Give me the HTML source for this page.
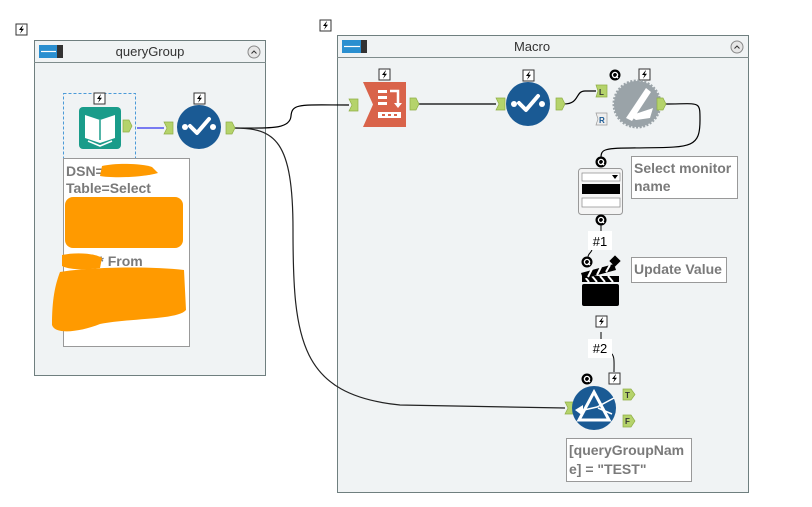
<!DOCTYPE html>
<html><head><meta charset="utf-8"><style>
html,body{margin:0;padding:0;background:#fff;}
svg{display:block;font-family:"Liberation Sans",sans-serif;}
.nt{font-weight:bold;fill:#7a7a7a;font-size:14px;}
</style></head><body>
<svg width="812" height="507" viewBox="0 0 812 507" xmlns="http://www.w3.org/2000/svg">
<defs>
<g id="bolt"><rect x="0" y="0" width="11" height="11" fill="#fff" stroke="#333" stroke-width="1"/><path d="M6.5 1.5 L3 6 L5.5 6 L4 9.8 L8 4.8 L5.5 4.8 L7 1.5Z" fill="#000"/></g>
<g id="q"><circle cx="0" cy="0" r="5.5" fill="#000"/><circle cx="0" cy="0" r="2.6" fill="none" stroke="#fff" stroke-width="1.3"/><path d="M1 1 L3 3" stroke="#fff" stroke-width="1.3"/></g>
<g id="outA"><path d="M0 0 H6 L9 6 L6 12 H0Z" fill="#b5d36b" stroke="#8fae46" stroke-width="0.7"/></g>
<g id="inA"><path d="M0 0 H9 V12 H0 L3 6Z" fill="#b5d36b" stroke="#8fae46" stroke-width="0.7"/></g>
</defs>

<!-- top-level bolts -->
<use href="#bolt" x="16" y="24"/>
<use href="#bolt" x="320" y="20"/>

<!-- queryGroup container -->
<rect x="34.5" y="40.5" width="231" height="335" fill="#f0f3f4" stroke="#6f7f7f" stroke-width="1"/>
<line x1="34" y1="62.5" x2="266" y2="62.5" stroke="#7f8c8c" stroke-width="1"/>
<rect x="39" y="45" width="24" height="13" fill="#2a8fd0"/><rect x="57" y="45" width="6" height="13" fill="#333"/><line x1="41" y1="51.5" x2="56" y2="51.5" stroke="#fff" stroke-width="1.2"/>
<text x="150" y="56" font-size="13" fill="#333" text-anchor="middle">queryGroup</text>
<circle cx="254" cy="52" r="6" fill="#e6e6e6" stroke="#888"/><path d="M251.5 53.5 L254 51 L256.5 53.5" fill="none" stroke="#333" stroke-width="1"/>

<!-- Macro container -->
<rect x="337.5" y="35.5" width="411" height="457" fill="#f0f3f4" stroke="#6f7f7f" stroke-width="1"/>
<line x1="337" y1="57.5" x2="749" y2="57.5" stroke="#7f8c8c" stroke-width="1"/>
<rect x="342" y="40" width="24" height="13" fill="#2a8fd0"/><rect x="361" y="40" width="6" height="13" fill="#333"/><line x1="344" y1="46.5" x2="360" y2="46.5" stroke="#fff" stroke-width="1.2"/>
<text x="532" y="51" font-size="13" fill="#333" text-anchor="middle">Macro</text>
<circle cx="737" cy="47" r="6" fill="#e6e6e6" stroke="#888"/><path d="M734.5 48.5 L737 46 L739.5 48.5" fill="none" stroke="#333" stroke-width="1"/>

<!-- connectors (behind) -->
<path d="M234 128 C268 128 290 130 291 116 C292 103 300 105 349 105" fill="none" stroke="#000" stroke-width="1.2"/>
<path d="M234 128 C275 128 293 140 293 230 C293 340 300 395 400 405 L565 408" fill="none" stroke="#222" stroke-width="1.2"/>
<line x1="418" y1="104" x2="496" y2="104" stroke="#000" stroke-width="1.2"/>
<path d="M564 104 C580 104 575 91 585 91 L596 91" fill="none" stroke="#000" stroke-width="1.2"/>
<path d="M665 104 C700 104 700 100 700 120 C700 150 690 147 630 148 C603 148 601 150 601 158" fill="none" stroke="#000" stroke-width="1.2"/>
<path d="M601 225 L601 232" stroke="#000" stroke-width="1"/>
<path d="M592 250 C590 254 588 254 588 257" fill="none" stroke="#000" stroke-width="1"/>
<path d="M601 332 L601 340" stroke="#000" stroke-width="1"/>
<path d="M610 352 C615 356 614 360 614 372" fill="none" stroke="#000" stroke-width="1"/>

<!-- queryGroup nodes -->
<rect x="63.5" y="93.5" width="72" height="66" fill="none" stroke="#4a9ad8" stroke-width="1" stroke-dasharray="3,2"/>
<use href="#bolt" x="94" y="93"/>
<rect x="79" y="107" width="42" height="42" rx="4" fill="#1a9c8a"/>
<path d="M85 115 L100 120 L115 115 L115 138 L100 143 L85 138Z" fill="#fff"/>
<path d="M100 120 L100 140" stroke="#1a9c8a" stroke-width="1.5"/>
<path d="M88 141 L100 146 L112 141" fill="none" stroke="#fff" stroke-width="1.5"/>
<use href="#outA" x="123" y="120"/>
<line x1="137" y1="128" x2="164" y2="128" stroke="#0000ee" stroke-width="1"/>
<use href="#inA" x="164" y="122"/>
<use href="#bolt" x="194" y="93"/>
<circle cx="199" cy="127" r="22" fill="#1a5a94"/>
<circle cx="185" cy="127" r="3" fill="#fff"/><circle cx="213" cy="127" r="3" fill="#fff"/>
<path d="M190 126 L197 133 L209 119" fill="none" stroke="#fff" stroke-width="4" stroke-linecap="round" stroke-linejoin="round"/>
<use href="#outA" x="226" y="122"/>

<!-- note box left -->
<rect x="63.5" y="158.5" width="126" height="188" fill="#fff" stroke="#999"/>
<text x="66" y="176" class="nt">DSN=</text>
<text x="66" y="193" class="nt">Table=Select</text>
<text x="66" y="266" class="nt">SQL * From</text>
<path d="M102 166 C115 163 140 163 152 167 L158 173 C140 178 110 178 100 176Z" fill="#ff9a00"/>
<rect x="65" y="197" width="118" height="51" rx="8" fill="#ff9a00"/>
<path d="M62 255 C75 252 95 253 102 258 L100 268 C85 270 70 270 62 266Z" fill="#ff9a00"/>
<path d="M60 272 C90 267 150 266 184 270 L186 310 C178 320 130 318 100 324 C80 332 55 335 52 325 C52 300 55 285 60 272Z" fill="#ff9a00"/>

<!-- Macro nodes -->
<use href="#inA" x="349" y="99"/>
<use href="#bolt" x="379" y="69"/>
<path d="M363 82 H406 V127 H363 L373 104.5Z" fill="#d9634a"/>
<rect x="378" y="90" width="9" height="3" fill="#fff"/><rect x="378" y="96" width="9" height="3" fill="#fff"/><rect x="378" y="102" width="9" height="3" fill="#fff"/>
<path d="M390 91 H398 V104" fill="none" stroke="#fff" stroke-width="2.5"/><path d="M394 103 L398 108 L402 103Z" fill="#fff"/>
<rect x="378" y="112" width="23" height="6" fill="#fff"/>
<rect x="382" y="114" width="3" height="2" fill="#d9634a"/><rect x="388" y="114" width="3" height="2" fill="#d9634a"/><rect x="394" y="114" width="3" height="2" fill="#d9634a"/>
<use href="#outA" x="410" y="98"/>
<use href="#inA" x="496" y="98"/>
<use href="#bolt" x="523" y="70"/>
<circle cx="528" cy="104" r="22" fill="#1a5a94"/>
<circle cx="514" cy="104" r="3" fill="#fff"/><circle cx="542" cy="104" r="3" fill="#fff"/>
<path d="M519 103 L526 110 L538 96" fill="none" stroke="#fff" stroke-width="4" stroke-linecap="round" stroke-linejoin="round"/>
<use href="#outA" x="556" y="98"/>

<path d="M596 85 H607 V97 H596 L598 91Z" fill="#b5d36b" stroke="#8fae46" stroke-width="0.7"/><text x="599" y="95" font-size="8" font-weight="bold" fill="#333">L</text>
<path d="M596 113 H607 V125 H596 L598 119Z" fill="#eee" stroke="#999" stroke-width="0.7"/><text x="599" y="123" font-size="8" font-weight="bold" fill="#1a5a94">R</text>
<use href="#q" x="615" y="75"/>
<use href="#bolt" x="639" y="69"/>
<circle cx="637" cy="104" r="23" fill="#9aa3a8" stroke="#9aa3a8" stroke-width="3" stroke-dasharray="2,1.5"/>
<path d="M626 118 L646 88 L651 92 L632 121Z" fill="#fff"/>
<path d="M630 116 C640 112 648 110 653 108 L650 118 L636 120Z" fill="#fff"/>
<use href="#outA" x="657" y="98"/>

<use href="#q" x="601" y="162"/>
<rect x="578.5" y="168.5" width="44" height="46" rx="3" fill="#f4f4f4" stroke="#999"/>
<rect x="582" y="173" width="38" height="8" fill="#fff" stroke="#888" stroke-width="0.7"/><path d="M612 175 L618 175 L615 179Z" fill="#000"/>
<rect x="582" y="184" width="38" height="10" fill="#000"/>
<rect x="582" y="198" width="38" height="9" fill="#fff" stroke="#888" stroke-width="0.7"/>
<rect x="631.5" y="156.5" width="106" height="42" fill="#fff" stroke="#999"/>
<text x="634" y="173" class="nt">Select monitor</text>
<text x="634" y="191" class="nt">name</text>

<use href="#q" x="601" y="220"/>
<rect x="588" y="231" width="24" height="19" fill="#fff"/>
<text x="600" y="246" font-size="13" fill="#000" text-anchor="middle">#1</text>
<use href="#q" x="587" y="262"/>
<rect x="611" y="257" width="8" height="8" fill="#000" transform="rotate(45 615 261)"/>
<rect x="582" y="284" width="37" height="22" rx="2" fill="#000"/>
<rect x="582" y="276" width="37" height="6" fill="#000"/>
<path d="M584 276 L589 282 M592 276 L597 282 M600 276 L605 282 M608 276 L613 282" stroke="#fff" stroke-width="2"/>
<path d="M581 273 L614 264 L616 270 L583 279Z" fill="#000"/>
<path d="M588 277 L592 269 M597 275 L601 267 M606 272 L610 265" stroke="#fff" stroke-width="2"/>
<rect x="631.5" y="257.5" width="95" height="25" fill="#fff" stroke="#999"/>
<text x="634" y="274" class="nt">Update Value</text>

<use href="#bolt" x="596" y="316"/>
<rect x="588" y="339" width="24" height="19" fill="#fff"/>
<text x="600" y="353" font-size="13" fill="#000" text-anchor="middle">#2</text>
<use href="#q" x="587" y="379"/>
<use href="#bolt" x="609" y="373"/>
<use href="#inA" x="565" y="402"/>
<circle cx="594" cy="408" r="22" fill="#1a5a94"/>
<path d="M594 392 L609 420 L579 420Z" fill="none" stroke="#fff" stroke-width="3"/>
<path d="M575 410 L583 405 L583 416Z" fill="#fff"/>
<path d="M584 410 L597 407 L614 398" fill="none" stroke="#fff" stroke-width="1.5"/>
<path d="M598 408 L612 414" stroke="#fff" stroke-width="1.5"/>
<path d="M623 389 H631 L635 394.5 L631 400 H623Z" fill="#b5d36b" stroke="#8fae46" stroke-width="0.7"/><text x="625" y="398" font-size="8" font-weight="bold" fill="#333">T</text>
<path d="M623 415 H631 L635 421 L631 427 H623Z" fill="#b5d36b" stroke="#8fae46" stroke-width="0.7"/><text x="625" y="424" font-size="8" font-weight="bold" fill="#333">F</text>
<rect x="566.5" y="438.5" width="125" height="43" fill="#fff" stroke="#999"/>
<text x="569" y="455" class="nt">[queryGroupNam</text>
<text x="569" y="474" class="nt">e] = "TEST"</text>
</svg>
</body></html>
